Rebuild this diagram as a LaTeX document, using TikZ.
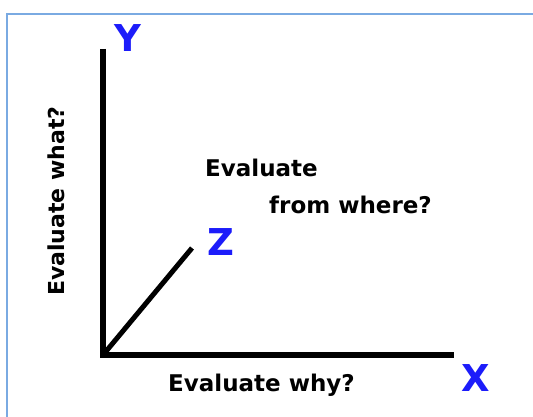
\documentclass[tikz,border=0pt]{standalone}
\usepackage{fontspec}
\setmainfont{DejaVu Sans}
\usetikzlibrary{calc,positioning}
\definecolor{framebl}{RGB}{122,170,226}
\definecolor{axisbl}{RGB}{28,28,250}

\begin{document}
\begin{tikzpicture}[x=1pt,y=-1pt,every node/.style={inner sep=0pt},
  axis/.style={line width=6pt},lbl/.style={font=\fontsize{23}{26}\selectfont\bfseries},
  ax/.style={font=\fontsize{37}{40}\selectfont\bfseries,text=axisbl}]
  \useasboundingbox (0,0) rectangle (533,417);
  \fill[white] (0,0) rectangle (533,417);
  \draw[framebl,line width=2pt] (7,417)--(7,14)--(533,14);
  \coordinate (o) at (103,355);
  \coordinate (ytop) at (103,49);
  \coordinate (xend) at (454,355);
  \coordinate (zend) at (192,248);
  \draw[axis] (ytop)--(103,358);
  \draw[axis] (100,355)--(xend);
  \draw[line width=5pt] (o)--(zend);
  \node[ax] (ly) at (128,38) {Y};
  \node[ax] (lx) at (476,378) {X};
  \node[ax] (lz) at (221,242) {Z};
  \node[lbl,anchor=base west] (ev) at (205,177) {Evaluate};
  \node[lbl,anchor=base west] (fw) at (269,213) {from where?};
  \node[lbl,anchor=base west] (why) at (168,391) {Evaluate why?};
  \node[lbl,font=\fontsize{22}{24}\selectfont\bfseries,anchor=base west,rotate=90] (what) at (64,296) {Evaluate what?};
\end{tikzpicture}
\end{document}
